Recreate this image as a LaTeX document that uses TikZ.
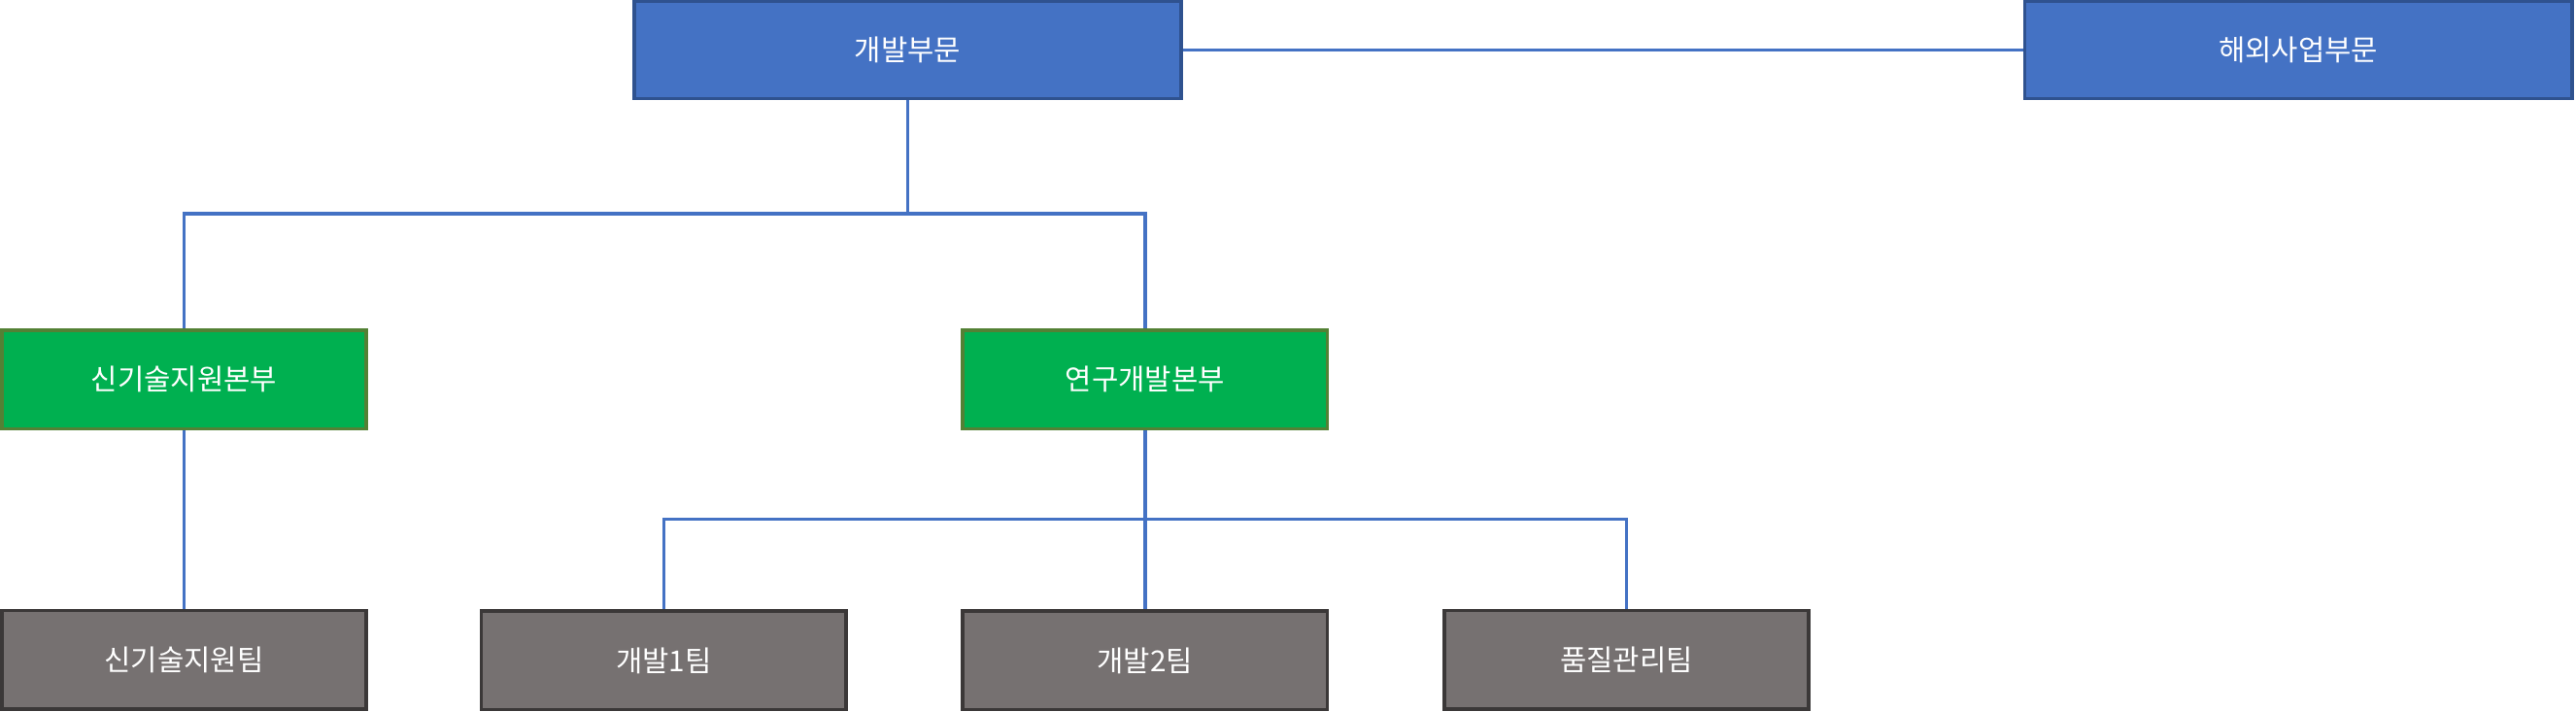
\documentclass[tikz,border=0pt]{standalone}
\usepackage{fontspec}
\setmainfont{Noto Sans CJK KR}
\definecolor{bluebox}{HTML}{4472C4}
\definecolor{blueedge}{HTML}{2F528F}
\definecolor{greenbox}{HTML}{00B050}
\definecolor{greenedge}{HTML}{538135}
\definecolor{graybox}{HTML}{767171}
\definecolor{grayedge}{HTML}{3B3838}
\tikzset{
box/.style = {draw, rectangle, line width=1.2pt, text=white, font=\fontsize{10}{12}\selectfont,
  minimum width=6.66cm, minimum height=1.18cm, inner sep=0pt},
division/.style = {box, fill=bluebox, draw=blueedge},
hq/.style = {box, fill=greenbox, draw=greenedge, minimum width=4.44cm, minimum height=1.2cm},
team/.style = {box, fill=graybox, draw=grayedge, minimum width=4.44cm, minimum height=1.2cm},
link/.style = {draw=bluebox, line width=1.2pt}
}
\begin{document}
\begin{tikzpicture}[x=0.02cm, y=-0.02cm]
    \useasboundingbox (0,0) rectangle (1568,433);
    % divisions
    \node [division] (dev) at (552.5,30.5) {개발부문};
    \node [division] (overseas) at (1399,30.5) {해외사업부문};
    % headquarters
    \node [hq] (newtech) at (112,231) {신기술지원본부};
    \node [hq] (rnd) at (697,231) {연구개발본부};
    % teams
    \node [team] (ntteam) at (112,401.5) {신기술지원팀};
    \node [team] (dev1) at (404,402) {개발1팀};
    \node [team] (dev2) at (697,402) {개발2팀};
    \node [team] (qa) at (990,401.5) {품질관리팀};

    \coordinate (split1) at (552.5,130);
    \coordinate (split2) at (697,316);

    \draw [link] (dev) -- (overseas);
    \draw [link] (dev) -- (split1) -| (newtech);
    \draw [link] (split1) -| (rnd);
    \draw [link] (newtech) -- (ntteam);
    \draw [link] (rnd) -- (dev2);
    \draw [link] (split2) -| (dev1);
    \draw [link] (split2) -| (qa);
\end{tikzpicture}
\end{document}
